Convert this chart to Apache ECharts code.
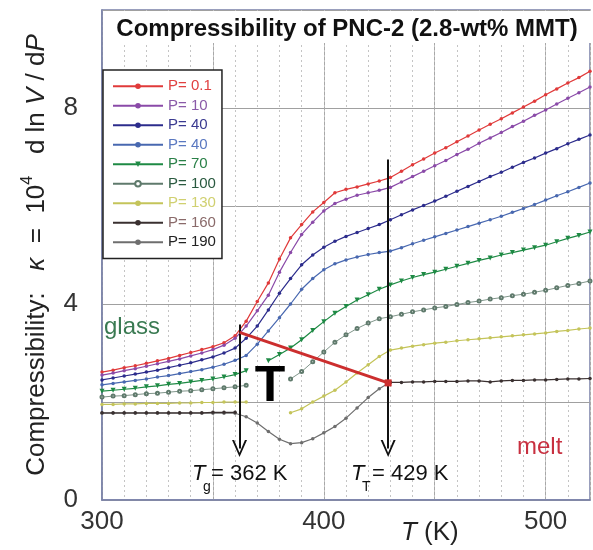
<!DOCTYPE html>
<html>
<head>
<meta charset="utf-8">
<script src="https://cdn.jsdelivr.net/npm/echarts@6/dist/echarts.min.js"></script>
<style>
html, body { margin: 0; padding: 0; background: #fff; }
#main { width: 593px; height: 550px; }
</style>
</head>
<body>
<div id="main"></div>
<script>
// temperature (K), one reading every 5 K
var temps = [300, 305, 310, 315, 320, 325, 330, 335, 340, 345, 350, 355, 360, 365, 370, 375, 380, 385, 390, 395,
  400, 405, 410, 415, 420, 425, 430, 435, 440, 445, 450, 455, 460, 465, 470, 475, 480, 485, 490, 495,
  500, 505, 510, 515, 520];

// compressibility per pressure (null = no reading)
var kP01 = [2.61, 2.65, 2.70, 2.74, 2.79, 2.84, 2.89, 2.95, 3.01, 3.07, 3.13, 3.21, 3.35, 3.65, 4.05, 4.43, 4.92, 5.35, 5.62, 5.88,
  6.07, 6.27, 6.34, 6.39, 6.45, 6.51, 6.58, 6.71, 6.84, 6.96, 7.08, 7.19, 7.31, 7.43, 7.55, 7.67, 7.78, 7.90, 8.02, 8.14,
  8.27, 8.39, 8.51, 8.62, 8.75];
var kP10 = [2.55, 2.59, 2.64, 2.68, 2.73, 2.78, 2.83, 2.88, 2.94, 3.00, 3.07, 3.16, 3.30, 3.55, 3.86, 4.18, 4.65, 5.05, 5.42, 5.67,
  5.90, 6.05, 6.14, 6.22, 6.27, 6.32, 6.38, 6.49, 6.60, 6.71, 6.82, 6.93, 7.05, 7.16, 7.28, 7.39, 7.50, 7.62, 7.73, 7.85,
  7.96, 8.08, 8.20, 8.31, 8.43];
var kP40a = [2.45, 2.49, 2.53, 2.57, 2.61, 2.65, 2.70, 2.75, 2.80, 2.86, 2.92, 3.00, 3.10, 3.30, 3.55, 3.88, 4.22, 4.52, 4.80, 5.00,
  5.16, 5.28, 5.38, 5.46, 5.54, 5.62, 5.72, 5.82, 5.92, 6.01, 6.10, 6.20, 6.30, 6.40, 6.50, 6.60, 6.69, 6.79, 6.89, 6.98,
  7.08, 7.17, 7.27, 7.36, 7.45];
var kP40b = [2.35, 2.38, 2.41, 2.44, 2.47, 2.51, 2.54, 2.58, 2.62, 2.66, 2.71, 2.77, 2.85, 2.95, 3.18, 3.45, 3.72, 4.00, 4.30, 4.52,
  4.70, 4.82, 4.90, 4.96, 5.01, 5.05, 5.08, 5.15, 5.23, 5.30, 5.37, 5.44, 5.51, 5.58, 5.65, 5.72, 5.79, 5.87, 5.95, 6.03,
  6.12, 6.21, 6.29, 6.38, 6.47];
var kP70 = [2.22, 2.24, 2.26, 2.28, 2.31, 2.33, 2.36, 2.38, 2.41, 2.44, 2.47, 2.51, 2.56, 2.64, null, 2.84, 2.97, 3.10, 3.27, 3.46,
  3.64, 3.81, 3.95, 4.08, 4.19, 4.30, 4.39, 4.47, 4.54, 4.60, 4.65, 4.71, 4.77, 4.83, 4.89, 4.94, 5.00, 5.05, 5.10, 5.15,
  5.20, 5.27, 5.34, 5.40, 5.47];
var kP100 = [2.10, 2.12, 2.13, 2.15, 2.17, 2.18, 2.20, 2.22, 2.23, 2.25, 2.27, 2.29, 2.31, 2.34, null, null, null, 2.47, 2.62, 2.82,
  3.02, 3.22, 3.37, 3.50, 3.61, 3.70, 3.74, 3.79, 3.84, 3.88, 3.92, 3.95, 3.99, 4.03, 4.06, 4.10, 4.13, 4.17, 4.20, 4.24,
  4.28, 4.33, 4.38, 4.42, 4.47];
var kP130 = [1.95, 1.95, 1.96, 1.96, 1.97, 1.97, 1.97, 1.98, 1.98, 1.99, 1.99, 2.00, 2.00, 2.00, null, null, null, 1.78, 1.86, 2.00,
  2.12, 2.24, 2.41, 2.59, 2.76, 2.93, 3.06, 3.10, 3.14, 3.17, 3.20, 3.22, 3.25, 3.27, 3.29, 3.31, 3.33, 3.35, 3.37, 3.39,
  3.41, 3.44, 3.46, 3.49, 3.51];
var kP160 = [1.78, 1.78, 1.78, 1.78, 1.78, 1.78, 1.78, 1.78, 1.78, 1.78, 1.79, 1.79, 1.79, null, null, null, null, null, null, null,
  null, null, null, null, null, null, 2.40, 2.40, 2.41, 2.41, 2.42, 2.42, 2.42, 2.43, 2.43, 2.41, 2.43, 2.44, 2.44, 2.45,
  2.45, 2.46, 2.47, 2.47, 2.48];
var kP190 = [1.77, 1.77, 1.77, 1.77, 1.77, 1.77, 1.77, 1.77, 1.77, 1.77, 1.77, 1.77, 1.77, 1.70, 1.57, 1.40, 1.24, 1.15, 1.17, 1.25,
  1.37, 1.50, 1.67, 1.88, 2.09, 2.27, 2.41, null, null, null, null, null, null, null, null, null, null, null, null, null,
  null, null, null, null, null];

var seriesNames = ['P= 0.1', 'P= 10', 'P= 40', 'P= 40 ', 'P= 70', 'P= 100', 'P= 130', 'P= 160', 'P= 190'];
var seriesValues = [kP01, kP10, kP40a, kP40b, kP70, kP100, kP130, kP160, kP190];

// transition line and arrows (T in K, kappa)
var transT = [362, 429];
var transK = [3.42, 2.39];
var arrowTop = [3.58, 6.95];
var arrowEnd = 1.05;

var xLabels = [300, 400, 500];
var yLabels = [0, 4, 8];

var lineColors = ['#e03a3a', '#8a4aa8', '#2c2c8c', '#4868b0', '#1e8a44', '#5f7a6c', '#c4c45a', '#3a3030', '#6e6e6e'];
var textColors = ['#e04040', '#8a5aa8', '#3a3a90', '#5a78c0', '#2a8048', '#2a5a40', '#d0d070', '#8a6a6a', '#222222'];
var symbols = ['circle', 'circle', 'circle', 'circle', 'triangle', 'emptyCircle', 'circle', 'circle', 'circle'];

var FONT = '"Liberation Sans", Arial, sans-serif';

function toPairs(vals) {
  var out = [];
  for (var i = 0; i < temps.length; i++) {
    out.push([temps[i], vals[i] == null ? '-' : vals[i]]);
  }
  return out;
}

var series = [];
for (var i = 0; i < seriesNames.length; i++) {
  series.push({
    name: seriesNames[i],
    type: 'line',
    data: toPairs(seriesValues[i]),
    symbol: symbols[i],
    symbolSize: symbols[i] == 'triangle' ? 5 : (i == 5 ? 3 : 3.5),
    symbolRotate: symbols[i] == 'triangle' ? 180 : 0,
    z: i == 7 ? 3 : 2,
    lineStyle: { color: lineColors[i], width: i == 5 ? 0.8 : 1.2 },
    itemStyle: { color: lineColors[i], borderWidth: i == 5 ? 0.8 : 1 },
    animation: false
  });
}

// red T line, with the Tg / TT arrows
series.push({
  name: 'transition',
  type: 'line',
  z: 5,
  data: [
    { value: [transT[0], transK[0]], symbol: 'none' },
    { value: [transT[1], transK[1]], symbol: 'rect', symbolSize: 7 }
  ],
  lineStyle: { color: '#cc2e2e', width: 3 },
  itemStyle: { color: '#cc2e2e' },
  animation: false,
  markLine: {
    silent: true,
    animation: false,
    symbol: ['none', 'path://M0,100 L50,0 L100,100 L86,100 L50,26 L14,100 Z'],
    symbolSize: [15, 17],
    label: { show: false },
    lineStyle: { color: '#111', width: 2, type: 'solid' },
    data: [
      [{ coord: [transT[0], arrowTop[0]] }, { coord: [transT[0], arrowEnd] }],
      [{ coord: [transT[1], arrowTop[1]] }, { coord: [transT[1], arrowEnd] }]
    ]
  }
});

var legendData = [];
for (var j = 0; j < seriesNames.length; j++) {
  legendData.push({ name: seriesNames[j], textStyle: { color: textColors[j] } });
}

var myChart = echarts.init(document.getElementById('main'));
var option = {
  backgroundColor: '#fff',
  animation: false,
  grid: {
    left: 102, right: 0, top: 10, bottom: 50,
    show: true, borderColor: '#7880a8', borderWidth: 1.5
  },
  legend: {
    orient: 'vertical',
    left: 103, top: 70,
    padding: [8, 6, 8, 9],
    itemWidth: 50, itemHeight: 7, itemGap: 3,
    backgroundColor: '#fff',
    borderColor: '#222', borderWidth: 1.5,
    textStyle: { fontSize: 15, fontFamily: FONT, lineHeight: 16.5 },
    data: legendData
  },
  xAxis: [{
    type: 'value', min: 300, max: 520, interval: 50,
    axisLine: { show: true, lineStyle: { color: '#7880a8', width: 1.5 } },
    axisTick: { show: false },
    axisLabel: {
      fontSize: 26, color: '#333', fontFamily: FONT, margin: 9,
      formatter: function(v) { return xLabels.indexOf(v) >= 0 ? String(v) : ''; }
    },
    splitLine: { lineStyle: { color: '#a8a8a8', width: 1 } }
  }, {
    type: 'value', min: 300, max: 520, interval: 10, position: 'top',
    axisLine: { show: false }, axisTick: { show: false }, axisLabel: { show: false },
    splitLine: { lineStyle: { color: '#c4c4c4', width: 1, type: [2, 3] } }
  }],
  yAxis: {
    type: 'value', min: 0, max: 10, interval: 2,
    name: '{n|Compressibility:   }{i|κ}{n|  =  10}{s|4}{n|   d ln }{i|V}{n| / d}{i|P}',
    nameLocation: 'middle', nameRotate: 90, nameGap: 48,
    nameTextStyle: {
      rich: {
        n: { fontSize: 26, color: '#222', fontFamily: FONT, lineHeight: 34, verticalAlign: 'middle' },
        i: { fontSize: 26, color: '#222', fontFamily: FONT, fontStyle: 'italic', lineHeight: 34, verticalAlign: 'middle' },
        s: { fontSize: 16, color: '#222', fontFamily: FONT, lineHeight: 16, verticalAlign: 'top' }
      }
    },
    axisLine: { show: true, lineStyle: { color: '#7880a8', width: 1.5 } },
    axisTick: { show: false },
    axisLabel: {
      fontSize: 26, color: '#333', fontFamily: FONT, margin: 24, padding: [0, 0, 14, 0],
      formatter: function(v) { return yLabels.indexOf(v) >= 0 ? String(v) : ''; }
    },
    splitLine: { lineStyle: { color: '#a0a0a0', width: 1 } }
  },
  graphic: [
    { type: 'rect', x: 104, y: 11, z: 5, shape: { width: 488, height: 32 }, style: { fill: '#fff' } },
    { type: 'text', x: 347, y: 29, z: 6, style: { text: 'Compressibility of PNC-2 (2.8-wt% MMT)', font: 'bold 24px ' + FONT, fill: '#111', textAlign: 'center', textVerticalAlign: 'middle' } },
    { type: 'text', x: 104, y: 327, z: 6, style: { text: 'glass', font: '24px ' + FONT, fill: '#3a7a52', textAlign: 'left', textVerticalAlign: 'middle' } },
    { type: 'text', x: 517, y: 447, z: 6, style: { text: 'melt', font: '24px ' + FONT, fill: '#c83040', textAlign: 'left', textVerticalAlign: 'middle' } },
    { type: 'text', x: 270, y: 387, z: 6, style: { text: 'T', font: 'bold 50px ' + FONT, fill: '#000', textAlign: 'center', textVerticalAlign: 'middle' } },
    { type: 'text', x: 192, y: 474, z: 6, style: { text: 'T', font: 'italic 22px ' + FONT, fill: '#111', textAlign: 'left', textVerticalAlign: 'middle' } },
    { type: 'text', x: 203, y: 487, z: 6, style: { text: 'g', font: '14px ' + FONT, fill: '#111', textAlign: 'left', textVerticalAlign: 'middle' } },
    { type: 'text', x: 211, y: 474, z: 6, style: { text: '= 362 K', font: '22px ' + FONT, fill: '#111', textAlign: 'left', textVerticalAlign: 'middle' } },
    { type: 'text', x: 351, y: 474, z: 6, style: { text: 'T', font: 'italic 22px ' + FONT, fill: '#111', textAlign: 'left', textVerticalAlign: 'middle' } },
    { type: 'text', x: 362, y: 487, z: 6, style: { text: 'T', font: '14px ' + FONT, fill: '#111', textAlign: 'left', textVerticalAlign: 'middle' } },
    { type: 'text', x: 372, y: 474, z: 6, style: { text: '= 429 K', font: '22px ' + FONT, fill: '#111', textAlign: 'left', textVerticalAlign: 'middle' } },
    { type: 'text', x: 401, y: 533, z: 6, style: { text: 'T', font: 'italic 26px ' + FONT, fill: '#222', textAlign: 'left', textVerticalAlign: 'middle' } },
    { type: 'text', x: 424, y: 533, z: 6, style: { text: '(K)', font: '26px ' + FONT, fill: '#222', textAlign: 'left', textVerticalAlign: 'middle' } }
  ],
  series: series
};
myChart.setOption(option);
</script>
</body>
</html>
